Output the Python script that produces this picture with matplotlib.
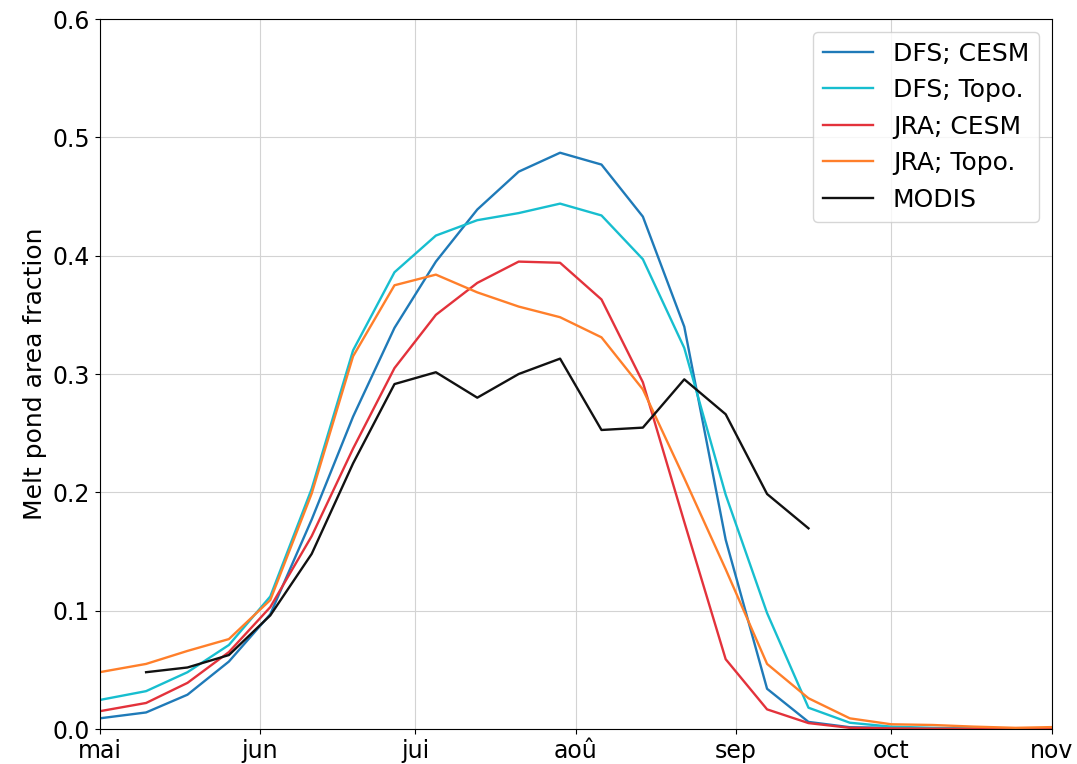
import numpy as np
import matplotlib
matplotlib.use('Agg')
import matplotlib.pyplot as plt

# days after 1 May for each 8-day period
days = [0, 9, 17, 25, 33, 41, 49, 57, 65, 73, 81, 89, 97, 105, 113, 121,
        129, 137, 145, 153, 161, 169, 177, 185]

dfs_cesm = [0.009, 0.014, 0.029, 0.057, 0.097, 0.177, 0.264, 0.339, 0.395, 0.439,
            0.471, 0.487, 0.477, 0.433, 0.340, 0.160, 0.034, 0.006, 0.0015, 0.001,
            0.0005, 0.0003, 0.0002, 0.0002]
dfs_topo = [0.0245, 0.032, 0.048, 0.071, 0.112, 0.203, 0.320, 0.386, 0.417, 0.430,
            0.436, 0.444, 0.434, 0.397, 0.322, 0.198, 0.098, 0.018, 0.0053, 0.002,
            0.001, 0.0005, 0.0003, 0.0003]
jra_cesm = [0.015, 0.022, 0.039, 0.065, 0.103, 0.163, 0.237, 0.305, 0.350, 0.377,
            0.395, 0.394, 0.363, 0.293, 0.175, 0.059, 0.0166, 0.005, 0.001, 0.0005,
            0.0003, 0.0002, 0.0002, 0.0002]
jra_topo = [0.048, 0.055, 0.066, 0.076, 0.109, 0.199, 0.315, 0.375, 0.384, 0.369,
            0.357, 0.348, 0.331, 0.287, 0.212, 0.135, 0.055, 0.026, 0.009, 0.004,
            0.0034, 0.002, 0.001, 0.0017]

modis_days = [9, 17, 25, 33, 41, 49, 57, 65, 73, 81, 89, 97, 105, 113, 121, 129, 137]
modis = [0.048, 0.052, 0.0625, 0.096, 0.148, 0.2245, 0.2915, 0.3015, 0.280, 0.300,
         0.313, 0.2527, 0.2547, 0.2955, 0.266, 0.1986, 0.1696]

month_pos = [0, 31, 61, 92, 123, 153, 184]
month_labels = ['mai', 'jun', 'jui', 'aoû', 'sep', 'oct', 'nov']

fig = plt.figure(figsize=(10.77, 7.64), dpi=100)
ax = fig.add_axes([0.0924, 0.0458, 0.8841, 0.9293])

lw = 1.7
ax.plot(days, dfs_cesm, color='#1f7ab8', lw=lw, label='DFS; CESM')
ax.plot(days, dfs_topo, color='#17becf', lw=lw, label='DFS; Topo.')
ax.plot(days, jra_cesm, color='#e3323b', lw=lw, label='JRA; CESM')
ax.plot(days, jra_topo, color='#ff7f2a', lw=lw, label='JRA; Topo.')
ax.plot(modis_days, modis, color='#111111', lw=lw, label='MODIS')

ax.set_xlim(0, 184)
ax.set_ylim(0, 0.6)
ax.set_xticks(month_pos)
ax.set_xticklabels(month_labels)
ax.set_yticks(np.arange(0, 0.61, 0.1))
ax.tick_params(labelsize=17)
ax.grid(True, color='#d3d3d3', lw=0.8)
ax.set_ylabel('Melt pond area fraction', fontsize=18)

ax.legend(loc='upper right', fontsize=18, handlelength=2.0, borderaxespad=0.5)

fig.savefig('out.png', dpi=100)
